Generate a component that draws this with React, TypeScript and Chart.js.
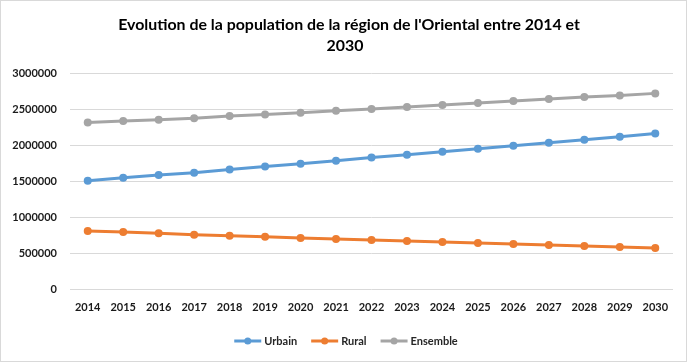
import React, { useEffect, useRef } from "react";
import { Chart, registerables } from "chart.js";

Chart.register(...registerables);

const years = ["2014", "2015", "2016", "2017", "2018", "2019", "2020", "2021", "2022", "2023", "2024", "2025", "2026", "2027", "2028", "2029", "2030"];
const urbain = [1504000, 1546000, 1583000, 1615000, 1661000, 1703000, 1740000, 1782000, 1828000, 1865000, 1907000, 1949000, 1990000, 2032000, 2074000, 2115000, 2161000];
const rural = [806000, 792000, 773000, 754000, 740000, 726000, 708000, 694000, 681000, 667000, 653000, 639000, 625000, 611000, 597000, 583000, 569000];
const ensemble = [2314000, 2333000, 2351000, 2370000, 2403000, 2425000, 2449000, 2476000, 2500000, 2528000, 2556000, 2583000, 2611000, 2639000, 2667000, 2689000, 2717000];
const seriesNames = ["Urbain", "Rural", "Ensemble"];
const seriesColors = ["#5B9BD5", "#ED7D31", "#A5A5A5"];
const titleLines = ["Evolution de la population de la région de l'Oriental entre 2014 et", "2030"];
const yMin = 0;
const yMax = 3000000;
const yStep = 500000;

const FONT = "Lato, sans-serif";

const decorPlugin = {
  id: "decor",
  beforeDraw(chart: any) {
    const ctx = chart.ctx;
    ctx.save();
    ctx.fillStyle = "#ffffff";
    ctx.fillRect(0, 0, chart.width, chart.height);
    ctx.restore();
  },
  afterDraw(chart: any) {
    const ctx = chart.ctx;
    ctx.save();
    // border
    ctx.strokeStyle = "#d9d9d9";
    ctx.lineWidth = 1;
    ctx.strokeRect(0.5, 0.5, chart.width - 4, chart.height - 2);
    // title (fit first line to the reference width)
    ctx.fillStyle = "#000000";
    ctx.font = `bold 18px ${FONT}`;
    const w18 = ctx.measureText(titleLines[0]).width;
    const size = Math.min(22, (18 * 462) / w18);
    ctx.font = `bold ${size.toFixed(2)}px ${FONT}`;
    ctx.textAlign = "center";
    ctx.textBaseline = "middle";
    ctx.fillText(titleLines[0], 349, 25);
    ctx.fillText(titleLines[1], 345, 46);
    // legend
    ctx.font = `bold 11px ${FONT}`;
    ctx.textAlign = "left";
    const lineLen = 27;
    const gapText = 3;
    const gapItem = 14;
    const widths = seriesNames.map((n) => ctx.measureText(n).width);
    const total = widths.reduce((a, w) => a + lineLen + gapText + w, 0) + gapItem * (seriesNames.length - 1);
    let x = 346 - total / 2;
    const y = 341;
    seriesNames.forEach((n, i) => {
      ctx.strokeStyle = seriesColors[i];
      ctx.lineWidth = 3;
      ctx.beginPath();
      ctx.moveTo(x, y);
      ctx.lineTo(x + lineLen, y);
      ctx.stroke();
      ctx.fillStyle = seriesColors[i];
      ctx.beginPath();
      ctx.arc(x + lineLen / 2, y, 3.5, 0, Math.PI * 2);
      ctx.fill();
      ctx.fillStyle = "#262626";
      ctx.fillText(n, x + lineLen + gapText, y + 0.5);
      x += lineLen + gapText + widths[i] + gapItem;
    });
    ctx.restore();
  },
};

export default function App() {
  const ref = useRef<HTMLCanvasElement | null>(null);
  useEffect(() => {
    if (!ref.current) return;
    const datasets = [urbain, rural, ensemble].map((d, i) => ({
      label: seriesNames[i],
      data: d,
      borderColor: seriesColors[i],
      backgroundColor: seriesColors[i],
      borderWidth: 3,
      pointRadius: 4,
      pointBorderWidth: 0,
      pointBackgroundColor: seriesColors[i],
      tension: 0,
    }));
    const chart = new Chart(ref.current, {
      type: "line",
      data: { labels: years, datasets },
      plugins: [decorPlugin],
      options: {
        responsive: false,
        animation: false,
        layout: { padding: { top: 73, right: 17, bottom: 0, left: 0 } },
        plugins: { legend: { display: false }, title: { display: false }, tooltip: { enabled: false } },
        scales: {
          x: {
            offset: true,
            grid: { display: false, drawTicks: false },
            border: { display: false },
            ticks: { font: { family: FONT, size: 11, weight: "bold" }, color: "#1a1a1a", padding: 12, maxRotation: 0, autoSkip: false },
            afterFit: (s: any) => { s.height = 74; },
          },
          y: {
            min: yMin,
            max: yMax,
            grid: { color: "#d9d9d9", drawTicks: false, lineWidth: 1 },
            border: { display: false },
            ticks: {
              stepSize: yStep,
              font: { family: FONT, size: 11, weight: "bold" },
              color: "#1a1a1a",
              padding: 13,
              callback: (v: any) => String(v),
            },
            afterFit: (s: any) => { s.width = 70; },
          },
        },
      },
    });
    return () => chart.destroy();
  }, []);
  return (
    <div style={{ position: "absolute", left: 0, top: 0, width: 690, height: 363 }}>
      <canvas ref={ref} width={690} height={363} />
    </div>
  );
}
